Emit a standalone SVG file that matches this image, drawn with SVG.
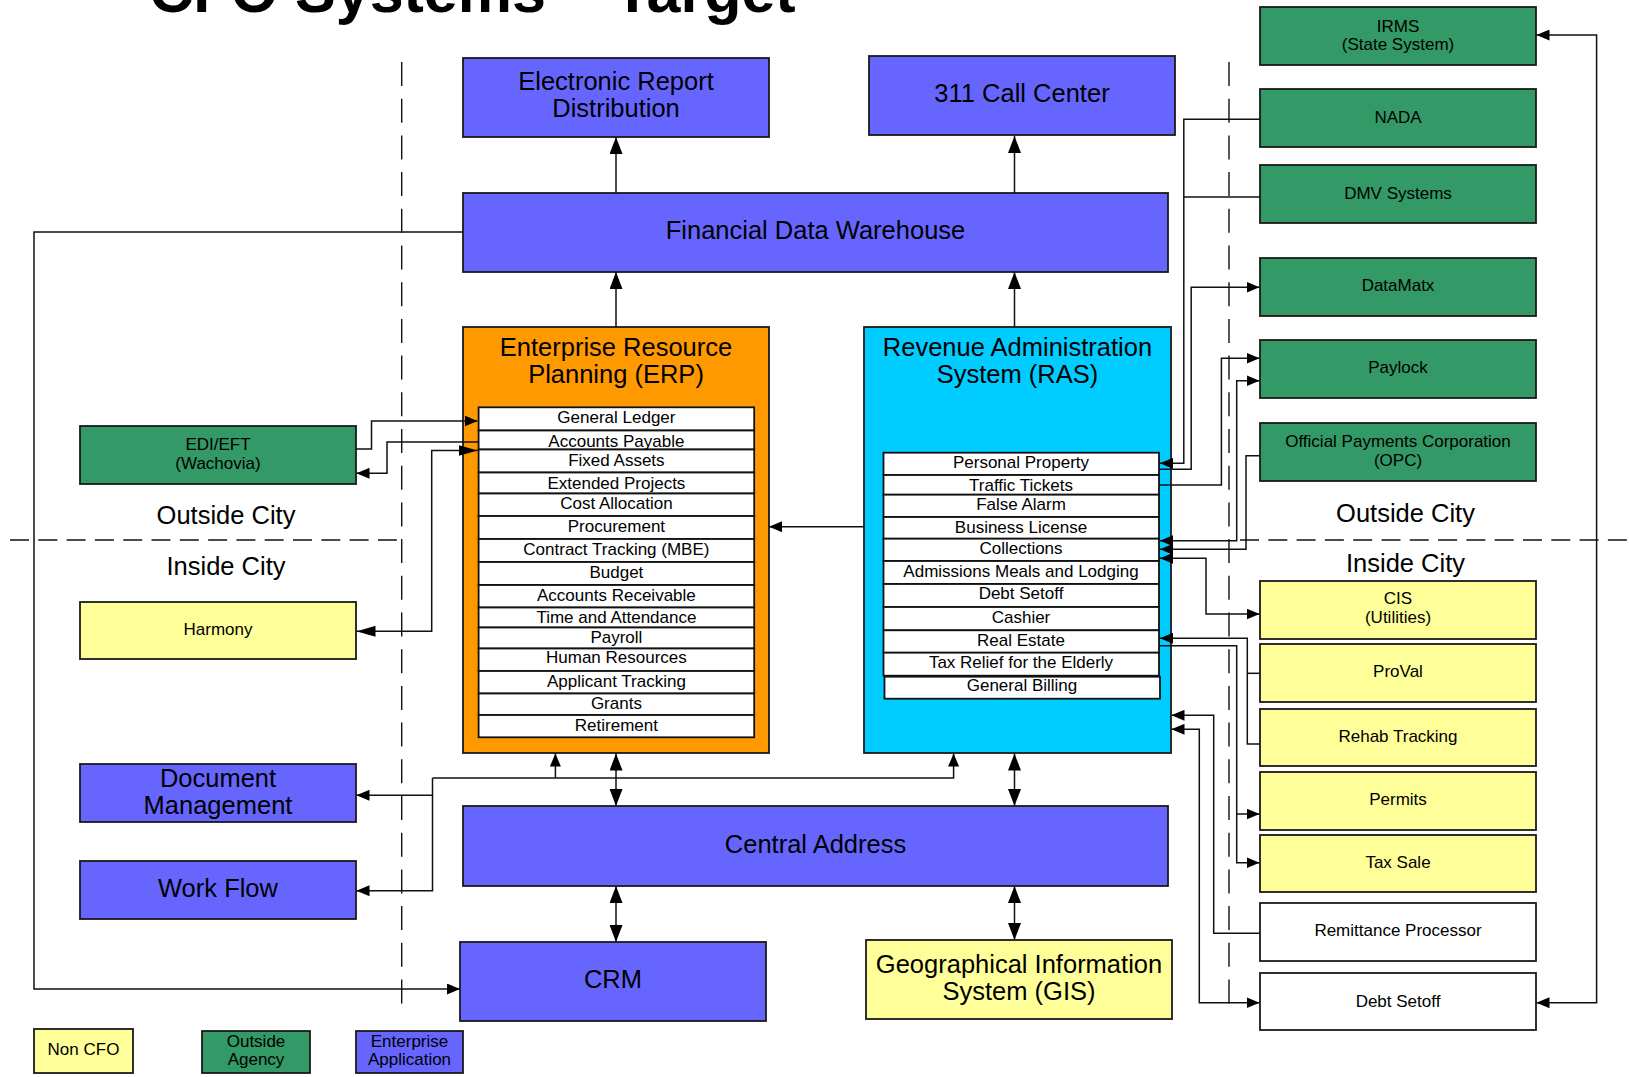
<svg xmlns="http://www.w3.org/2000/svg" width="1629" height="1077" viewBox="0 0 1629 1077">
  <style>
    .box{stroke:#1a1a1a;stroke-width:1.8}
    .ent{fill:#6666ff}
    .out{fill:#339966}
    .non{fill:#ffff99}
    .wht{fill:#ffffff}
    .erp{fill:#ff9900}
    .ras{fill:#00ccff}
    .row{fill:#ffffff;stroke:#111;stroke-width:1.8}
    text{font-family:"Liberation Sans",Arial,sans-serif;fill:#000;text-anchor:middle}
    .big{font-size:25.5px}
    .sm{font-size:17px}
    .title{font-size:61px;font-weight:bold}
    .cn path{fill:none;stroke:#111;stroke-width:1.5}
    .dv{fill:none;stroke:#111;stroke-width:1.4;stroke-dasharray:24 12.7}
    .dh{fill:none;stroke:#111;stroke-width:1.4;stroke-dasharray:19 9.3}
  </style>
  <defs>
    <marker id="ab" markerUnits="userSpaceOnUse" markerWidth="17" markerHeight="13" refX="17" refY="6.5" orient="auto-start-reverse">
      <path d="M0,0 L17,6.5 L0,13 z" fill="#000"/>
    </marker>
    <marker id="am" markerUnits="userSpaceOnUse" markerWidth="13" markerHeight="11" refX="13" refY="5.5" orient="auto-start-reverse">
      <path d="M0,0 L13,5.5 L0,11 z" fill="#000"/>
    </marker>
    <marker id="al" markerUnits="userSpaceOnUse" markerWidth="19" markerHeight="11" refX="19" refY="5.5" orient="auto-start-reverse">
      <path d="M0,0 L19,5.5 L0,11 z" fill="#000"/>
    </marker>
  </defs>

  <rect width="1629" height="1077" fill="#fff"/>

  <text class="title" x="472.5" y="12">CFO Systems – Target</text>

  <!-- zone boundaries -->
  <g id="zones">
    <path class="dv" d="M401.7,62 V1006"/>
    <path class="dv" d="M1229,62 V1005"/>
    <path class="dh" d="M10,540 H401.7"/>
    <path class="dh" d="M1240,540 H1629"/>
    <text class="big" x="226" y="524">Outside City</text>
    <text class="big" x="226" y="575">Inside City</text>
    <text class="big" x="1405.5" y="522">Outside City</text>
    <text class="big" x="1405.5" y="572">Inside City</text>
  </g>

  <!-- enterprise applications -->
  <g id="erd"><rect class="box ent" x="463" y="58" width="306" height="79"/>
    <text class="big" x="616" y="90">Electronic Report</text><text class="big" x="616" y="117.3">Distribution</text></g>
  <g id="call311"><rect class="box ent" x="869" y="56" width="306" height="79"/>
    <text class="big" x="1022" y="101.7">311 Call Center</text></g>
  <g id="fdw"><rect class="box ent" x="463" y="193" width="705" height="79"/>
    <text class="big" x="815.5" y="238.7">Financial Data Warehouse</text></g>
  <g id="central-address"><rect class="box ent" x="463" y="806" width="705" height="80"/>
    <text class="big" x="815.5" y="852.7">Central Address</text></g>
  <g id="crm"><rect class="box ent" x="460" y="942" width="306" height="79"/>
    <text class="big" x="613" y="988.3">CRM</text></g>
  <g id="doc-mgmt"><rect class="box ent" x="80" y="764" width="276" height="58"/>
    <text class="big" x="218" y="786.7">Document</text><text class="big" x="218" y="814">Management</text></g>
  <g id="work-flow"><rect class="box ent" x="80" y="861" width="276" height="58"/>
    <text class="big" x="218" y="896.7">Work Flow</text></g>
  <g id="gis"><rect class="box non" x="866" y="940" width="306" height="79"/>
    <text class="big" x="1019" y="973.3">Geographical Information</text><text class="big" x="1019" y="1000">System (GIS)</text></g>

  <!-- ERP -->
  <g id="erp">
    <rect class="box erp" x="463" y="327" width="306" height="426"/>
    <text class="big" x="616" y="356">Enterprise Resource</text>
    <text class="big" x="616" y="383.3">Planning (ERP)</text>
    <rect class="row" x="478.6" y="407.3" width="275.6" height="23.2"/>
    <rect class="row" x="478.6" y="430.5" width="275.6" height="19"/>
    <rect class="row" x="478.6" y="449.5" width="275.6" height="23"/>
    <rect class="row" x="478.6" y="472.5" width="275.6" height="21"/>
    <rect class="row" x="478.6" y="493.5" width="275.6" height="22.5"/>
    <rect class="row" x="478.6" y="516" width="275.6" height="23"/>
    <rect class="row" x="478.6" y="539" width="275.6" height="23"/>
    <rect class="row" x="478.6" y="562" width="275.6" height="23"/>
    <rect class="row" x="478.6" y="585" width="275.6" height="22.5"/>
    <rect class="row" x="478.6" y="607.5" width="275.6" height="20"/>
    <rect class="row" x="478.6" y="627.5" width="275.6" height="21"/>
    <rect class="row" x="478.6" y="648.5" width="275.6" height="22.5"/>
    <rect class="row" x="478.6" y="671" width="275.6" height="22.5"/>
    <rect class="row" x="478.6" y="693.5" width="275.6" height="21.5"/>
    <rect class="row" x="478.6" y="715" width="275.6" height="22.3"/>
    <text class="sm" x="616.4" y="423.3">General Ledger</text>
    <text class="sm" x="616.4" y="446.7">Accounts Payable</text>
    <text class="sm" x="616.4" y="465.7">Fixed Assets</text>
    <text class="sm" x="616.4" y="488.7">Extended Projects</text>
    <text class="sm" x="616.4" y="509.3">Cost Allocation</text>
    <text class="sm" x="616.4" y="532.3">Procurement</text>
    <text class="sm" x="616.4" y="555">Contract Tracking (MBE)</text>
    <text class="sm" x="616.4" y="578.3">Budget</text>
    <text class="sm" x="616.4" y="600.7">Accounts Receivable</text>
    <text class="sm" x="616.4" y="623.3">Time and Attendance</text>
    <text class="sm" x="616.4" y="643.3">Payroll</text>
    <text class="sm" x="616.4" y="663.3">Human Resources</text>
    <text class="sm" x="616.4" y="686.7">Applicant Tracking</text>
    <text class="sm" x="616.4" y="709.3">Grants</text>
    <text class="sm" x="616.4" y="730.7">Retirement</text>
  </g>

  <!-- RAS -->
  <g id="ras">
    <rect class="box ras" x="864" y="327" width="307" height="426"/>
    <text class="big" x="1017.5" y="356">Revenue Administration</text>
    <text class="big" x="1017.5" y="383.3">System (RAS)</text>
    <rect class="row" x="883.5" y="452.7" width="275.5" height="22.3"/>
    <rect class="row" x="883.5" y="475" width="275.5" height="19.7"/>
    <rect class="row" x="883.5" y="494.7" width="275.5" height="22.3"/>
    <rect class="row" x="883.5" y="517" width="275.5" height="21.7"/>
    <rect class="row" x="883.5" y="538.7" width="275.5" height="22.3"/>
    <rect class="row" x="883.5" y="561" width="275.5" height="23"/>
    <rect class="row" x="883.5" y="584" width="275.5" height="23"/>
    <rect class="row" x="883.5" y="607" width="275.5" height="23.3"/>
    <rect class="row" x="883.5" y="630.3" width="275.5" height="22.4"/>
    <rect class="row" x="883.5" y="652.7" width="275.5" height="23"/>
    <rect class="row" x="884.5" y="676.7" width="275.5" height="22"/>
    <text class="sm" x="1021" y="468.3">Personal Property</text>
    <text class="sm" x="1021" y="491">Traffic Tickets</text>
    <text class="sm" x="1021" y="510">False Alarm</text>
    <text class="sm" x="1021" y="533.3">Business License</text>
    <text class="sm" x="1021" y="554.3">Collections</text>
    <text class="sm" x="1021" y="577.3">Admissions Meals and Lodging</text>
    <text class="sm" x="1021" y="599.3">Debt Setoff</text>
    <text class="sm" x="1021" y="622.7">Cashier</text>
    <text class="sm" x="1021" y="645.7">Real Estate</text>
    <text class="sm" x="1021" y="668.3">Tax Relief for the Elderly</text>
    <text class="sm" x="1022" y="690.7">General Billing</text>
  </g>

  <!-- outside agencies -->
  <g id="irms"><rect class="box out" x="1260" y="7" width="276" height="58"/>
    <text class="sm" x="1398" y="31.7">IRMS</text><text class="sm" x="1398" y="50">(State System)</text></g>
  <g id="nada"><rect class="box out" x="1260" y="89" width="276" height="58"/>
    <text class="sm" x="1398" y="123.3">NADA</text></g>
  <g id="dmv"><rect class="box out" x="1260" y="165" width="276" height="58"/>
    <text class="sm" x="1398" y="199">DMV Systems</text></g>
  <g id="datamatx"><rect class="box out" x="1260" y="258" width="276" height="58"/>
    <text class="sm" x="1398" y="291">DataMatx</text></g>
  <g id="paylock"><rect class="box out" x="1260" y="340" width="276" height="58"/>
    <text class="sm" x="1398" y="373.3">Paylock</text></g>
  <g id="opc"><rect class="box out" x="1260" y="423" width="276" height="58"/>
    <text class="sm" x="1398" y="446.7">Official Payments Corporation</text><text class="sm" x="1398" y="465.7">(OPC)</text></g>
  <g id="edi-eft"><rect class="box out" x="80" y="426" width="276" height="58"/>
    <text class="sm" x="218" y="450">EDI/EFT</text><text class="sm" x="218" y="469.3">(Wachovia)</text></g>

  <!-- non-CFO systems -->
  <g id="cis"><rect class="box non" x="1260" y="581" width="276" height="58"/>
    <text class="sm" x="1398" y="604">CIS</text><text class="sm" x="1398" y="622.7">(Utilities)</text></g>
  <g id="proval"><rect class="box non" x="1260" y="644" width="276" height="58"/>
    <text class="sm" x="1398" y="676.7">ProVal</text></g>
  <g id="rehab"><rect class="box non" x="1260" y="709" width="276" height="57"/>
    <text class="sm" x="1398" y="741.7">Rehab Tracking</text></g>
  <g id="permits"><rect class="box non" x="1260" y="772" width="276" height="58"/>
    <text class="sm" x="1398" y="805">Permits</text></g>
  <g id="tax-sale"><rect class="box non" x="1260" y="835" width="276" height="57"/>
    <text class="sm" x="1398" y="868.3">Tax Sale</text></g>
  <g id="harmony"><rect class="box non" x="80" y="602" width="276" height="57"/>
    <text class="sm" x="218" y="635">Harmony</text></g>
  <g id="remittance"><rect class="box wht" x="1260" y="903" width="276" height="58"/>
    <text class="sm" x="1398" y="936">Remittance Processor</text></g>
  <g id="debt-setoff"><rect class="box wht" x="1260" y="973" width="276" height="57"/>
    <text class="sm" x="1398" y="1006.7">Debt Setoff</text></g>

  <!-- legend -->
  <g id="legend">
    <rect class="box non" x="34" y="1029" width="99" height="44"/>
    <text class="sm" x="83.5" y="1055">Non CFO</text>
    <rect class="box out" x="202" y="1031" width="108" height="42"/>
    <text class="sm" x="256" y="1047.3">Outside</text><text class="sm" x="256" y="1065">Agency</text>
    <rect class="box ent" x="356" y="1031" width="107" height="42"/>
    <text class="sm" x="409.5" y="1047.3">Enterprise</text><text class="sm" x="409.5" y="1065">Application</text>
  </g>

  <!-- connectors, drawn over the containers so ends inside ERP/RAS stay visible -->
  <g id="connectors" class="cn">
    <path d="M616,193 V137" marker-end="url(#ab)"/>
    <path d="M1014.5,193 V136" marker-end="url(#ab)"/>
    <path d="M616,327 V272" marker-end="url(#ab)"/>
    <path d="M1014.5,327 V272" marker-end="url(#ab)"/>
    <path d="M463,232 H34 V989 H460" marker-end="url(#am)"/>
    <path d="M864,526.7 H769" marker-end="url(#am)"/>

    <path d="M356,449 H371.5 V421 H477.5" marker-end="url(#am)"/>
    <path d="M478.5,442 H387 V473.3 H356.5" marker-end="url(#am)"/>
    <path d="M356.5,631.3 H431.7 V450.5 H477.5" marker-start="url(#al)" marker-end="url(#al)"/>

    <path d="M432.5,778 H953.6 V753.5" marker-end="url(#am)"/>
    <path d="M555.4,778 V753.5" marker-end="url(#am)"/>
    <path d="M432.5,778 V795.3 H356.5" marker-end="url(#am)"/>
    <path d="M432.5,795.3 V890.7 H356.5" marker-end="url(#am)"/>

    <path d="M616,753.5 V806" marker-start="url(#ab)" marker-end="url(#ab)"/>
    <path d="M1014.5,753.5 V806" marker-start="url(#ab)" marker-end="url(#ab)"/>
    <path d="M616,886 V942" marker-start="url(#ab)" marker-end="url(#ab)"/>
    <path d="M1014.5,886 V940" marker-start="url(#ab)" marker-end="url(#ab)"/>

    <path d="M1260,119.3 H1183.8 V463.3 H1160" marker-end="url(#am)"/>
    <path d="M1260,197 H1183.8"/>
    <path d="M1159,469.3 H1191.2 V287.3 H1259.5" marker-end="url(#am)"/>
    <path d="M1159,485 H1221.4 V358.3 H1259.5" marker-end="url(#am)"/>
    <path d="M1160,540.7 H1236.7 V380.7 H1259.5" marker-start="url(#am)" marker-end="url(#am)"/>
    <path d="M1260,455.7 H1246 V549.3 H1160" marker-end="url(#am)"/>
    <path d="M1160,558.3 H1206 V614 H1259.5" marker-start="url(#am)" marker-end="url(#am)"/>
    <path d="M1260,744 H1247.3 V638.3 H1160" marker-end="url(#am)"/>
    <path d="M1247.3,673.3 H1260"/>
    <path d="M1159,645.7 H1236.7 V862.7 H1259.5" marker-end="url(#am)"/>
    <path d="M1236.7,814 H1259.5" marker-end="url(#am)"/>
    <path d="M1260,933.3 H1213.7 V715.3 H1171.5" marker-end="url(#am)"/>
    <path d="M1171.5,729.3 H1199.3 V1002.7 H1259.5" marker-start="url(#am)" marker-end="url(#am)"/>
    <path d="M1536.5,35 H1596.6 V1002.7 H1536.5" marker-start="url(#am)" marker-end="url(#am)"/>
  </g>
</svg>
